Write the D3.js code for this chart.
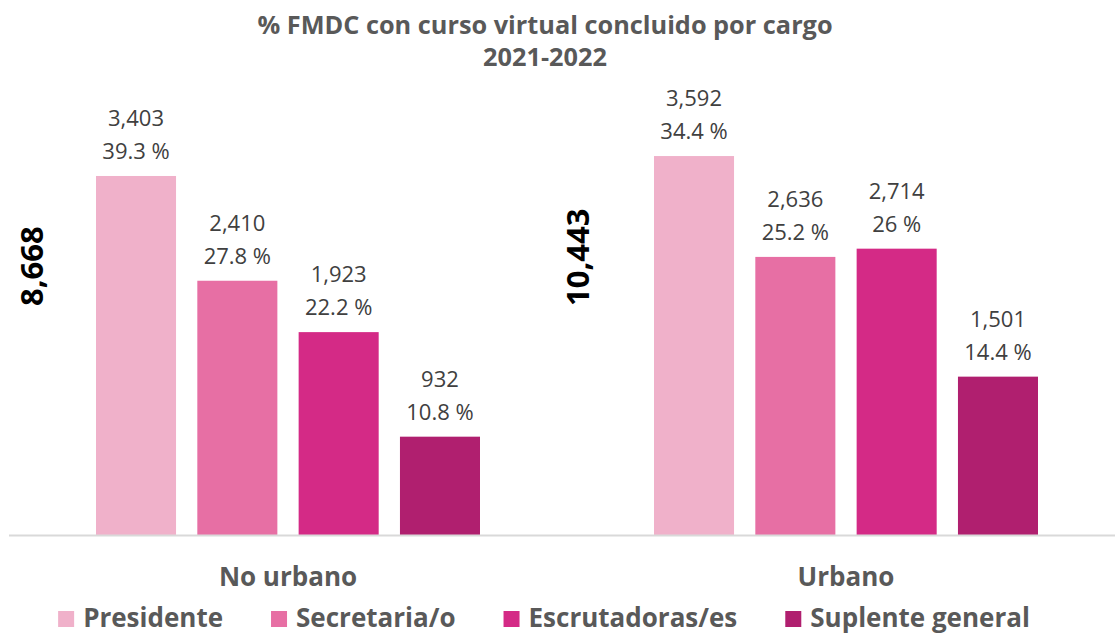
<!DOCTYPE html>
<html>
<head>
<meta charset="utf-8">
<script src="https://cdn.jsdelivr.net/npm/d3@7"></script>
<style>
  body { margin: 0; background: #fff; }
  svg { display: block; font-family: "Open Sans", "Noto Sans", sans-serif; }
</style>
</head>
<body>
<script>
// values
const groups = ['No urbano', 'Urbano'];
const cargos = ['Presidente', 'Secretaria/o', 'Escrutadoras/es', 'Suplente general'];
const counts = [
  [3403, 2410, 1923, 932],
  [3592, 2636, 2714, 1501]
];
const percents = [
  ['39.3 %', '27.8 %', '22.2 %', '10.8 %'],
  ['34.4 %', '25.2 %', '26 %', '14.4 %']
];
const totals = [8668, 10443];
const colors = ['#F0B1CA', '#E76FA4', '#D42A86', '#B01F6F'];

const width = 1115,
    height = 634,
    baseY = 535;

const svg = d3.select('body').append('svg')
    .attr('width', width)
    .attr('height', height);

const x0 = d3.scaleBand()
    .domain(groups)
    .range([9, 1125])
    .padding(0);

const x1 = d3.scaleBand()
    .domain(cargos)
    .range([87, x0.bandwidth() - 87])
    .paddingInner(0.21)
    .paddingOuter(0);

const y = d3.scaleLinear()
    .domain([0, 4000])
    .range([baseY, baseY - 422]);

const color = d3.scaleOrdinal().domain(cargos).range(colors);
const fmt = d3.format(',');

// title
const title = svg.append('text')
    .attr('text-anchor', 'middle')
    .attr('font-weight', 700)
    .attr('font-size', 25.3)
    .attr('fill', '#595959');
title.append('tspan').attr('x', 545).attr('y', 34).text('% FMDC con curso virtual concluido por cargo');
title.append('tspan').attr('x', 545).attr('y', 66).text('2021-2022');

const rows = groups.map((g, i) => cargos.map((c, j) => ({
    group: g, cargo: c, value: counts[i][j], pct: percents[i][j]
})));

const gGroup = svg.selectAll('.group')
    .data(rows)
    .enter().append('g')
    .attr('class', 'group')
    .attr('transform', (d, i) => `translate(${x0(groups[i])},0)`);

gGroup.selectAll('rect')
    .data(d => d)
    .enter().append('rect')
    .attr('x', d => x1(d.cargo))
    .attr('y', d => y(d.value))
    .attr('width', x1.bandwidth())
    .attr('height', d => y(0) - y(d.value))
    .attr('fill', d => color(d.cargo));

const labels = gGroup.selectAll('.lbl')
    .data(d => d)
    .enter().append('text')
    .attr('class', 'lbl')
    .attr('text-anchor', 'middle')
    .attr('font-size', 22)
    .attr('fill', '#404040');
labels.append('tspan')
    .attr('x', d => x1(d.cargo) + x1.bandwidth() / 2)
    .attr('y', d => y(d.value) - 50)
    .text(d => fmt(d.value));
labels.append('tspan')
    .attr('x', d => x1(d.cargo) + x1.bandwidth() / 2)
    .attr('y', d => y(d.value) - 17)
    .text(d => d.pct);

// baseline
svg.append('line')
    .attr('x1', x0.range()[0]).attr('x2', width)
    .attr('y1', baseY + 0.5).attr('y2', baseY + 0.5)
    .attr('stroke', '#D9D9D9')
    .attr('stroke-width', 2);

// rotated totals
const totalOffset = [34, 22];
svg.selectAll('.total')
    .data(totals)
    .enter().append('text')
    .attr('class', 'total')
    .attr('transform', (d, i) => `translate(${x0(groups[i]) + totalOffset[i]},306) rotate(-90)`)
    .attr('font-size', 31)
    .attr('font-weight', 700)
    .attr('fill', '#000')
    .text(d => fmt(d));

// category labels
svg.selectAll('.cat')
    .data(groups)
    .enter().append('text')
    .attr('class', 'cat')
    .attr('x', d => x0(d) + x0.bandwidth() / 2)
    .attr('y', 586)
    .attr('text-anchor', 'middle')
    .attr('font-size', 26)
    .attr('font-weight', 700)
    .attr('fill', '#595959')
    .text(d => d);

// legend
const legend = svg.append('g');
const items = legend.selectAll('g')
    .data(cargos)
    .enter().append('g');
items.append('rect')
    .attr('width', 16).attr('height', 16)
    .attr('y', 611)
    .attr('fill', d => color(d));
items.append('text')
    .attr('x', 25)
    .attr('y', 627)
    .attr('font-size', 26)
    .attr('font-weight', 700)
    .attr('fill', '#595959')
    .text(d => d);

const gap = 48;
let lx = 0;
items.each(function () {
    const w = 25 + d3.select(this).select('text').node().getComputedTextLength();
    d3.select(this).attr('transform', `translate(${lx},0)`);
    lx += w + gap;
});
lx -= gap;
legend.attr('transform', `translate(${544 - lx / 2},0)`);
</script>
</body>
</html>
